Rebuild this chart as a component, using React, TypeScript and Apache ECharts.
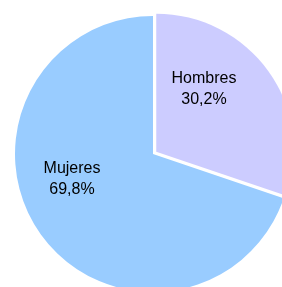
import React, { useEffect, useRef } from "react";
import * as echarts from "echarts";

const categories = ["Hombres", "Mujeres"];
const values = [30.2, 69.8];
const colors = ["#CCCCFF", "#99CCFF"];
const labelPos = [
  [204, 88],
  [72, 178],
];

const fmt = (v: number) => v.toFixed(1).replace(".", ",") + "%";

export default function App() {
  const ref = useRef<HTMLDivElement>(null);
  useEffect(() => {
    if (!ref.current) return;
    const chart = echarts.init(ref.current, null, { renderer: "svg" });
    chart.setOption({
      animation: false,
      graphic: categories.map((c, i) => ({
        type: "text",
        x: labelPos[i][0],
        y: labelPos[i][1],
        z: 100,
        style: {
          text: c + "\n" + fmt(values[i]),
          fontFamily: "Liberation Sans, Arial, sans-serif",
          fontSize: 16,
          lineHeight: 21,
          fill: "#000",
          align: "center",
          verticalAlign: "middle",
        },
      })),
      series: [
        {
          type: "pie",
          center: [153, 154],
          radius: 138,
          startAngle: 90,
          clockwise: true,
          selectedMode: "single",
          selectedOffset: 4,
          emphasis: { disabled: true },
          label: { show: false },
          labelLine: { show: false },
          itemStyle: { borderWidth: 0 },
          data: categories.map((c, i) => ({
            name: c,
            value: values[i],
            selected: i === 0,
            itemStyle: { color: colors[i] },
            select: { itemStyle: { color: colors[i] } },
          })),
        },
      ],
    });
    return () => chart.dispose();
  }, []);
  return (
    <div
      ref={ref}
      style={{ position: "fixed", left: 0, top: 0, width: 282, height: 287 }}
    />
  );
}
